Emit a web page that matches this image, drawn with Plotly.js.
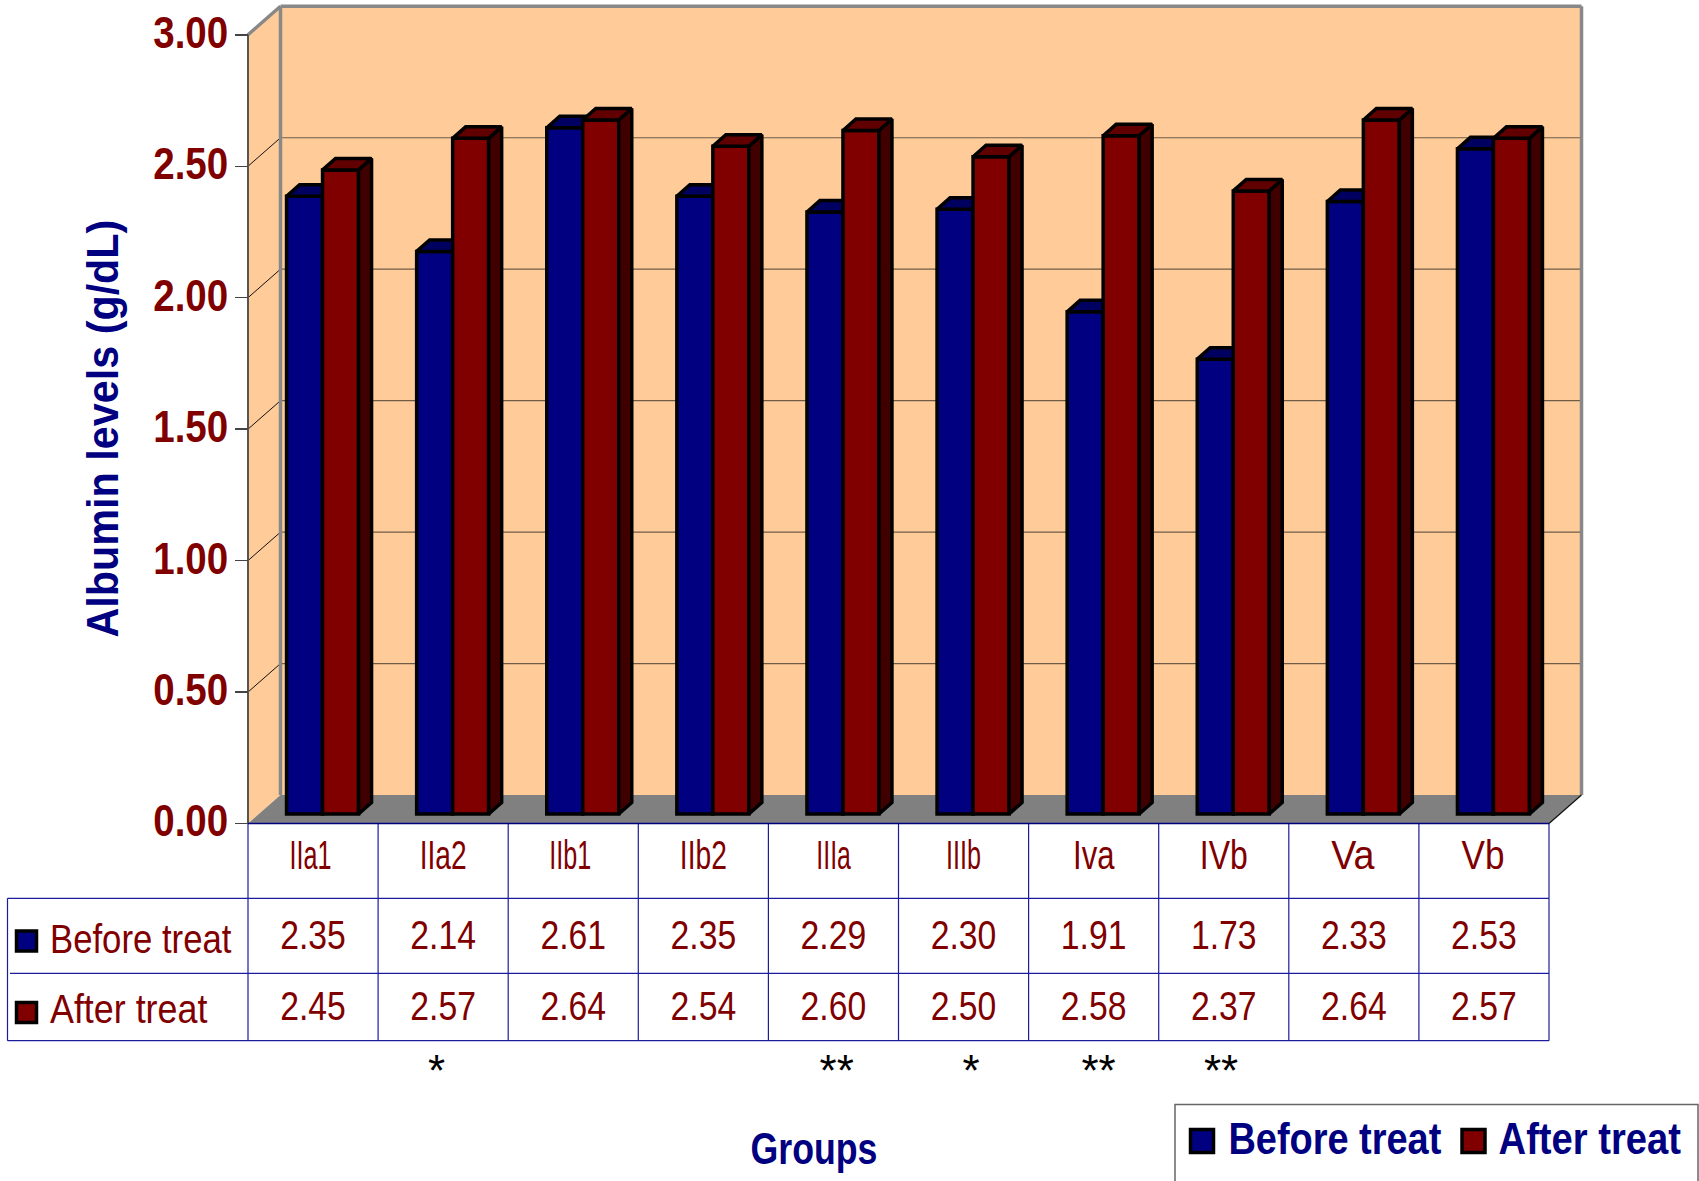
<!DOCTYPE html>
<html>
<head>
<meta charset="utf-8">
<script src="https://cdn.plot.ly/plotly-3.0.1.min.js"></script>
<style>html,body{margin:0;padding:0;background:#fff}</style>
</head>
<body>
<div id="chart" style="width:1699px;height:1181px"></div>
<script>
// Serum albumin by group, before and after treatment.
const groups = ["IIa1","IIa2","IIb1","IIb2","IIIa","IIIb","Iva","IVb","Va","Vb"];
const beforeTreat = [2.35,2.14,2.61,2.35,2.29,2.30,1.91,1.73,2.33,2.53];
const afterTreat  = [2.45,2.57,2.64,2.54,2.60,2.50,2.58,2.37,2.64,2.57];
const significance = ["*","**","*","**","**"];
const valueTicks = [0,0.5,1,1.5,2,2.5,3];

const NAVY = "#000080", MAROON = "#800000";
const FONT = '"Liberation Sans",Arial,sans-serif';

// Figure size and the pixel scale of the front plane of the chart box.
const W = 1699, H = 1181;
const X0 = 248, Y0 = 823.5, PX_PER_GROUP = 130.1, PX_PER_UNIT = 262.9;
const ux = px => (px - X0) / PX_PER_GROUP;
const uy = px => (Y0 - px) / PX_PER_UNIT;

// Oblique depth of the box and of the bars, in axis units.
const BOX_DX = ux(X0 + 32.5), BOX_DY = uy(Y0 - 28.5);
const PLANE_DX = 9.5 / PX_PER_GROUP, PLANE_DY = 9.5 / PX_PER_UNIT;
const BAR_DX = 13 / PX_PER_GROUP, BAR_DY = 11.5 / PX_PER_UNIT;
const BAR_W = 36 / PX_PER_GROUP;
const YMAX = 3, NG = groups.length;

// Horizontal places of the significance marks and of the narrowed axis labels.
const starPx = [436.6, 836.7, 971, 1098.6, 1221];
const groupLabelWidth = [42,47,42,47,35,35,42,48,44,43];
const groupLabelShift = [-2.5,0,-3,0,0,0,0,0,-1,-1];

function polyPath(pts) {
  return "M" + pts.map(p => p[0] + "," + p[1]).join(" L") + " Z";
}
const area = (path, fill) => ({type:"path", xref:"x", yref:"y", layer:"below", path,
  fillcolor:fill, line:{width:0}});
const seg = (x0,y0,x1,y1,color,width,layer) => ({type:"line", xref:"x", yref:"y",
  layer:layer||"below", x0,y0,x1,y1, line:{color,width}});

const shapes = [
  // back wall, side wall, floor
  area(polyPath([[BOX_DX,BOX_DY],[NG+BOX_DX,BOX_DY],[NG+BOX_DX,YMAX+BOX_DY],[BOX_DX,YMAX+BOX_DY]]), "#FFCC99"),
  area(polyPath([[0,0],[BOX_DX,BOX_DY],[BOX_DX,YMAX+BOX_DY],[0,YMAX]]), "#FFCC99"),
  area(polyPath([[0,0],[NG,0],[NG+BOX_DX,BOX_DY],[BOX_DX,BOX_DY]]), "#808080")
];
valueTicks.filter(v => v > 0 && v < YMAX).forEach(v => {
  shapes.push(seg(BOX_DX, v+BOX_DY, NG+BOX_DX, v+BOX_DY, "#6f5c48", 1.2));
  shapes.push(seg(0, v, BOX_DX, v+BOX_DY, "#111", 1));
});
// box edges
shapes.push(seg(BOX_DX,BOX_DY,BOX_DX,YMAX+BOX_DY,"#888",3.5));
shapes.push(seg(BOX_DX,YMAX+BOX_DY,NG+BOX_DX,YMAX+BOX_DY,"#888",3.5));
shapes.push(seg(NG+BOX_DX,BOX_DY,NG+BOX_DX,YMAX+BOX_DY,"#888",3.5));
shapes.push(seg(0,YMAX,BOX_DX,YMAX+BOX_DY,"#888",3.5));
shapes.push(seg(0,0,0,YMAX,"#555",2));
shapes.push(seg(NG,0,NG+BOX_DX,BOX_DY,"#111",1.2));

// Data table ruled under the plot.
const rowEdges = [Y0, 898.3, 973.3, 1040.7].map(uy);
const keyLeft = ux(7.5);
const RULE = "#1c1c9c";
shapes.push(seg(0,rowEdges[0],NG,rowEdges[0],NAVY,1.5,"above"));
shapes.push(seg(keyLeft,rowEdges[1],NG,rowEdges[1],RULE,1.2));
shapes.push(seg(ux(10),rowEdges[2],NG,rowEdges[2],RULE,1.2));
shapes.push(seg(keyLeft,rowEdges[3],NG,rowEdges[3],RULE,1.2));
shapes.push(seg(keyLeft,rowEdges[1],keyLeft,rowEdges[3],RULE,1.2));
for (let i = 0; i <= NG; i++) shapes.push(seg(i,rowEdges[0],i,rowEdges[3],RULE,1.2));

// Key frame in the lower right corner, running off the bottom of the figure.
shapes.push({type:"path", xref:"x", yref:"y", layer:"below",
  path:"M"+ux(1175)+","+uy(1190)+" L"+ux(1175)+","+uy(1104.5)+" L"+ux(1698)+","+uy(1104.5)+" L"+ux(1698)+","+uy(1190),
  line:{color:"#666",width:1.5}});

const barCentre = (i, slot) => i + 0.5 + PLANE_DX + (slot - 0.5) * BAR_W;

function frontBars(name, values, slot, color, z) {
  return {type:"bar", name, x: values.map((v,i) => barCentre(i,slot)), y: values,
    base: PLANE_DY, width: BAR_W, zorder: z, hoverinfo:"skip",
    marker:{color, line:{color:"#000", width:3.5}}};
}
function faces(values, slot, colour, z, kind) {
  const xs = [], ys = [];
  values.forEach((v,i) => {
    const l = barCentre(i,slot) - BAR_W/2, r = l + BAR_W, t = v + PLANE_DY, b = PLANE_DY;
    const pts = kind === "top"
      ? [[l,t],[r,t],[r+BAR_DX,t+BAR_DY],[l+BAR_DX,t+BAR_DY],[l,t]]
      : [[r,b],[r+BAR_DX,b+BAR_DY],[r+BAR_DX,t+BAR_DY],[r,t],[r,b]];
    pts.forEach(p => { xs.push(p[0]); ys.push(p[1]); });
    xs.push(null); ys.push(null);
  });
  return {type:"scatter", mode:"lines", x:xs, y:ys, fill:"toself", fillcolor:colour,
    line:{color:"#000", width:3.5}, zorder:z, hoverinfo:"skip", showlegend:false};
}
const tableText = (xs, ys, text, size, color, pos, weight) => ({type:"scatter", mode:"text",
  x:xs, y:ys, text, textposition:pos||"middle center",
  textfont:{family:FONT, size, color, weight:weight||400}, hoverinfo:"skip", showlegend:false, zorder:3});
const keySwatch = (xs, ys, color, size) => ({type:"scatter", mode:"markers", x:xs, y:ys,
  marker:{symbol:"square", size, color, line:{color:"#000", width:3.5}},
  hoverinfo:"skip", showlegend:false, zorder:3});

const centres = groups.map((g,i) => i + 0.5);
const traces = [
  faces(beforeTreat, 0, "#000040", 1, "side"),
  frontBars("Before treat", beforeTreat, 0, NAVY, 1),
  faces(beforeTreat, 0, "#000060", 1, "top"),
  faces(afterTreat, 1, "#400000", 2, "side"),
  frontBars("After treat", afterTreat, 1, MAROON, 2),
  faces(afterTreat, 1, "#600000", 2, "top"),
  tableText(centres, beforeTreat.map(() => uy(939.5)), beforeTreat.map(v => v.toFixed(2)), 40, MAROON),
  tableText(centres, afterTreat.map(() => uy(1010)), afterTreat.map(v => v.toFixed(2)), 40, MAROON),
  tableText([ux(50)], [uy(943)], ["Before treat"], 41, MAROON, "middle right"),
  tableText([ux(50)], [uy(1012.5)], ["After treat"], 41, MAROON, "middle right"),
  keySwatch([ux(26.5)], [uy(941)], NAVY, 20),
  keySwatch([ux(26.5)], [uy(1012.5)], MAROON, 20),
  tableText(starPx.map(ux), starPx.map(() => uy(1075)), significance, 44, "#000"),
  keySwatch([ux(1202)], [uy(1141)], NAVY, 23),
  keySwatch([ux(1473.5)], [uy(1141)], MAROON, 23),
  tableText([ux(1228.4)], [uy(1143)], ["Before treat"], 45, NAVY, "middle right", 700),
  tableText([ux(1498.6)], [uy(1143)], ["After treat"], 45, NAVY, "middle right", 700)
];

const layout = {
  width: W, height: H, autosize:false, showlegend:false, barmode:"overlay",
  margin:{l:0,r:0,t:0,b:0,pad:0}, paper_bgcolor:"#fff", plot_bgcolor:"#fff",
  xaxis:{range:[ux(0),ux(W)], anchor:"free", position:1-Y0/H, tickmode:"array",
    tickvals:centres, ticktext:groups, ticks:"", showgrid:false, zeroline:false, showline:false,
    tickfont:{family:FONT,size:40,color:MAROON}},
  yaxis:{range:[uy(H),uy(0)], anchor:"free", position:X0/W, tickmode:"array",
    tickvals:valueTicks, ticktext:valueTicks.map(v => v.toFixed(2)),
    ticks:"outside", ticklen:13, tickwidth:1.5, tickcolor:"#444",
    showgrid:false, zeroline:false, showline:false,
    tickfont:{family:FONT,size:44,color:MAROON,weight:700}},
  shapes,
  annotations:[
    {xref:"paper",yref:"paper",x:102/W,y:1-429/H,text:"Albumin levels (g/dL)",textangle:-90,showarrow:false,
     xanchor:"center",yanchor:"middle",font:{family:FONT,size:44,color:NAVY,weight:700}},
    {xref:"paper",yref:"paper",x:814/W,y:1-1148/H,text:"Groups",showarrow:false,
     xanchor:"center",yanchor:"middle",font:{family:FONT,size:45,color:NAVY,weight:700}}
  ]
};

// The typeface is a condensed sans: narrow each drawn text to its set width,
// pivoting at its start, centre or end, with an optional extra shift.
function narrow(el, width, pivot, dx, dy) {
  const box = el.getBBox();
  const s = width / box.width;
  const px = pivot === "start" ? box.x : pivot === "end" ? box.x + box.width : box.x + box.width / 2;
  const own = el.getAttribute("transform") || "";
  el.setAttribute("transform",
    own + " translate(" + (dx||0) + "," + (dy||0) + ") translate(" + px + ",0) scale(" + s + ",1) translate(" + (-px) + ",0)");
}

Plotly.newPlot("chart", traces, layout, {staticPlot:true, displayModeBar:false}).then(gd => {
  gd.querySelectorAll(".ytick text").forEach(t => narrow(t, 75, "end", 2, -2.5));
  gd.querySelectorAll(".xtick text").forEach(t => {
    const i = groups.indexOf(t.textContent);
    narrow(t, groupLabelWidth[i], "centre", groupLabelShift[i], 5);
  });
  gd.querySelectorAll(".textpoint text").forEach(t => {
    const c = t.textContent, bold = t.style.fontWeight === "700" || t.style.fontWeight === "bold";
    if (/^\d\.\d\d$/.test(c)) narrow(t, 65.7, "centre");
    else if (c === "Before treat") narrow(t, bold ? 213 : 182, "start");
    else if (c === "After treat") narrow(t, bold ? 182.4 : 158, "start");
  });
  gd.querySelectorAll(".annotation-text").forEach(t => {
    narrow(t, t.textContent === "Groups" ? 127 : 418, "centre");
  });
});
</script>
</body>
</html>
